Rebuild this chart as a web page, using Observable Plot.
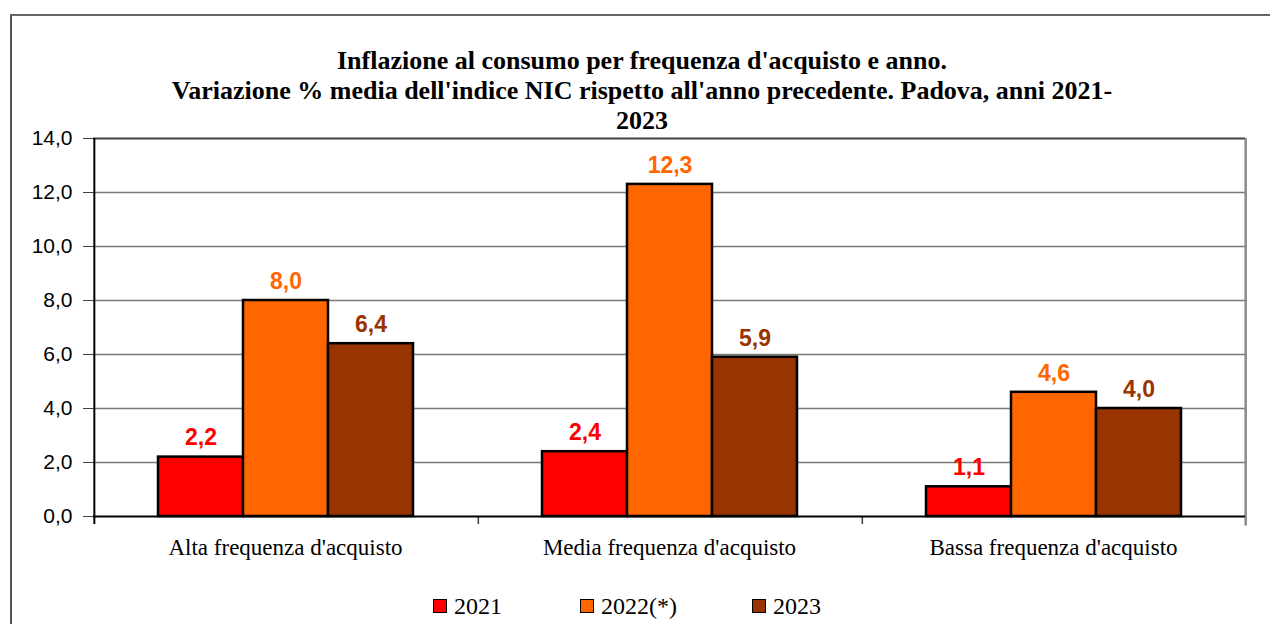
<!DOCTYPE html>
<html>
<head>
<meta charset="utf-8">
<script src="https://cdn.jsdelivr.net/npm/d3@7"></script>
<script src="https://cdn.jsdelivr.net/npm/@observablehq/plot@0.6"></script>
<style>
  html, body { margin: 0; padding: 0; background: #fff; }
  #wrap { position: relative; width: 1270px; height: 624px; overflow: hidden; background: #fff; }
  #frame { position: absolute; left: 10px; top: 14px; width: 1300px; height: 700px; border-top: 2px solid #666; border-left: 2px solid #555; }
  #title { position: absolute; left: 0; top: 46px; width: 1284px; text-align: center; font-family: "Liberation Serif", "Times New Roman", serif; font-weight: bold; font-size: 26px; line-height: 30px; color: #000; }
  #chart { position: absolute; left: 0; top: 0; }
  #legend { position: absolute; top: 593px; left: 0; width: 1270px; height: 26px; font-family: "Liberation Serif", "Times New Roman", serif; font-size: 24px; color: #000; }
  .item { position: absolute; top: 0; display: flex; align-items: center; height: 26px; }
  .sw { width: 12px; height: 12px; border: 1px solid #000; margin-right: 7px; }
</style>
</head>
<body>
<div id="wrap">
  <div id="frame"></div>
  <div id="chart"></div>
  <div id="title">Inflazione al consumo per frequenza d'acquisto e anno.<br>Variazione % media dell'indice NIC rispetto all'anno precedente. Padova, anni 2021-<br>2023</div>
  <div id="legend"></div>
</div>
<script>
const categories = ["Alta frequenza d'acquisto", "Media frequenza d'acquisto", "Bassa frequenza d'acquisto"];
const years = ["2021", "2022(*)", "2023"];
const values2021 = [2.2, 2.4, 1.1];
const values2022 = [8.0, 12.3, 4.6];
const values2023 = [6.4, 5.9, 4.0];
const colors = ["#FF0000", "#FF6600", "#993300"];
const yTicks = [0, 2, 4, 6, 8, 10, 12, 14];
const legendX = [433, 580, 752];

const series = [values2021, values2022, values2023];
const data = [];
categories.forEach((c, i) => years.forEach((y, j) => data.push({cat: c, year: y, value: series[j][i]})));

const W = 1270, H = 580;
const mL = 93, mR = 25, mT = 138, mB = 64;
const facetW = (W - mL - mR) / categories.length;
const padOuter = 0.75;
const bw = facetW / (years.length + 2 * padOuter);
const edgeDx = bw / 2 + padOuter * bw;
const fmt = d => d.toFixed(1).replace(".", ",");
const sans = "'Liberation Sans', Arial, sans-serif";
const serif = "'Liberation Serif', 'Times New Roman', serif";

const chart = Plot.plot({
  width: W, height: H,
  marginLeft: mL, marginRight: mR, marginTop: mT, marginBottom: mB,
  style: {background: "transparent", color: "#000", overflow: "visible"},
  fx: {domain: categories, padding: 0, label: null},
  x: {domain: years, paddingInner: 0, paddingOuter: padOuter, axis: null},
  y: {domain: [0, 14], label: null},
  color: {domain: years, range: colors},
  marks: [
    Plot.ruleY(yTicks.filter(t => t > 0 && t < 14), {stroke: "#7a7a7a", strokeWidth: 1.5}),
    Plot.ruleY([14], {stroke: "#404040", strokeWidth: 2}),
    Plot.ruleX(categories.slice(1), {fx: d => d, x: () => years[0], dx: -edgeDx, y1: -0.3, y2: 0, stroke: "#404040", strokeWidth: 1.5}),
    Plot.ruleX(categories.slice(0, 1), {fx: d => d, x: () => years[0], dx: -edgeDx, y1: -0.3, y2: 14, stroke: "#000", strokeWidth: 2}),
    Plot.ruleX(categories.slice(-1), {fx: d => d, x: () => years[years.length - 1], dx: edgeDx, y1: -0.35, y2: 14, stroke: "#8a8a8a", strokeWidth: 2.5}),
    Plot.barY(data, {fx: "cat", x: "year", y: "value", fill: "year", stroke: "#000", strokeWidth: 2.5}),
    Plot.ruleY([0], {stroke: "#000", strokeWidth: 2}),
    Plot.text(data, {fx: "cat", x: "year", y: "value", text: d => fmt(d.value), fill: "year", dy: -19, fontSize: 23, fontWeight: "bold", fontFamily: sans}),
    Plot.axisY({ticks: yTicks, tickFormat: fmt, tickSize: 10, tickPadding: 11, fontSize: 21, fontFamily: sans, label: null, stroke: "#404040"}),
    Plot.axisFx({anchor: "bottom", tickSize: 0, tickPadding: 22, fontSize: 23, fontFamily: serif, label: null})
  ]
});
document.getElementById("chart").appendChild(chart);

const legend = document.getElementById("legend");
years.forEach((y, i) => {
  const it = document.createElement("div");
  it.className = "item";
  it.style.left = legendX[i] + "px";
  const sw = document.createElement("div");
  sw.className = "sw";
  sw.style.background = colors[i];
  const t = document.createElement("span");
  t.textContent = y;
  it.appendChild(sw); it.appendChild(t);
  legend.appendChild(it);
});
</script>
</body>
</html>
